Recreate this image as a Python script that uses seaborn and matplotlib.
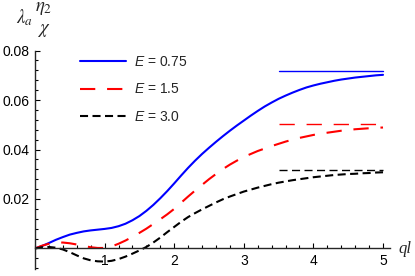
import numpy as np
import pandas as pd
import matplotlib
matplotlib.use("Agg")
import matplotlib.pyplot as plt
from matplotlib.ticker import MultipleLocator, FixedLocator
import seaborn as sns

# values
ql = [0.0, 0.1, 0.2, 0.3, 0.4, 0.5, 0.6, 0.7, 0.8, 0.9,
      1.0, 1.1, 1.2, 1.3, 1.4, 1.5, 1.6, 1.7, 1.8, 1.9,
      2.0, 2.1, 2.2, 2.3, 2.4, 2.5, 2.6, 2.7, 2.8, 2.9,
      3.0, 3.1, 3.2, 3.3, 3.4, 3.5, 3.6, 3.7, 3.8, 3.9,
      4.0, 4.1, 4.2, 4.3, 4.4, 4.5, 4.6, 4.7, 4.8, 4.9, 5.0]
lam_e075 = [0.0, 0.0010, 0.0022, 0.0035, 0.0046, 0.0056, 0.0063, 0.0069, 0.0073, 0.0076,
            0.0079, 0.0083, 0.0090, 0.0100, 0.0114, 0.0131, 0.0152, 0.0176, 0.0203, 0.0232,
            0.0263, 0.0295, 0.0326, 0.0355, 0.0382, 0.0407, 0.0431, 0.0454, 0.0476, 0.0497,
            0.0517, 0.0537, 0.0556, 0.0574, 0.0590, 0.0605, 0.0618, 0.0630, 0.0641, 0.0651,
            0.0659, 0.0666, 0.0672, 0.0678, 0.0683, 0.0687, 0.0691, 0.0694, 0.0697, 0.0700, 0.0702]
lam_e15 = [0.0, 0.0011, 0.0019, 0.0023, 0.0024, 0.0021, 0.0016, 0.0010, 0.0005, 0.0002,
           0.0002, 0.0008, 0.0019, 0.0032, 0.0047, 0.0063, 0.0080, 0.0099, 0.0118, 0.0138,
           0.0160, 0.0185, 0.0210, 0.0234, 0.0257, 0.0280, 0.0301, 0.0321, 0.0339, 0.0355,
           0.0370, 0.0382, 0.0394, 0.0404, 0.0414, 0.0423, 0.0432, 0.0440, 0.0447, 0.0453,
           0.0459, 0.0464, 0.0468, 0.0472, 0.0476, 0.0479, 0.0482, 0.0484, 0.0486, 0.0488, 0.0489]
lam_e30 = [0.0, 0.0005, 0.0006, 0.0003, -0.0004, -0.0015, -0.0028, -0.0040, -0.0048, -0.0052,
           -0.0053, -0.0050, -0.0043, -0.0033, -0.0021, -0.0008, 0.0006, 0.0024, 0.0044, 0.0066,
           0.0087, 0.0108, 0.0127, 0.0143, 0.0158, 0.0172, 0.0186, 0.0199, 0.0210, 0.0220,
           0.0230, 0.0238, 0.0246, 0.0253, 0.0260, 0.0266, 0.0271, 0.0276, 0.0280, 0.0284,
           0.0288, 0.0291, 0.0294, 0.0297, 0.0299, 0.0301, 0.0302, 0.0304, 0.0305, 0.0307, 0.0308]
labels = ["$E$ = 0.75", "$E$ = 1.5", "$E$ = 3.0"]
asymptotes = [0.0718, 0.0503, 0.0316]
asym_from, asym_to = 3.5, 5.0

sns.set_style("ticks")
plt.rcParams["font.family"] = ["Liberation Sans", "DejaVu Sans"]
plt.rcParams["mathtext.fontset"] = "custom"
plt.rcParams["mathtext.it"] = "Liberation Sans:italic"
plt.rcParams["mathtext.rm"] = "Liberation Sans"

fig = plt.figure(figsize=(4.15, 2.76), dpi=100)
ax = fig.add_axes([0.0843, 0.0236, 0.8554, 0.7931])

colors = ["#0000ff", "#ff0000", "#000000"]
dash_pt = [None, (11.0, 8.5), (5.8, 3.2)]  # in points
lw = 1.5
series = [lam_e075, lam_e15, lam_e30]

for vals, lab, c, d in zip(series, labels, colors, dash_pt):
    ls = "-" if d is None else (0, (d[0] / lw, d[1] / lw))
    sns.lineplot(x=ql, y=vals, ax=ax, color=c, lw=lw, linestyle=ls, label=lab)

# thin asymptote lines
thin = 1.0
for a, c, d in zip(asymptotes, colors, dash_pt):
    ls = "-" if d is None else (0, (d[0] / thin, d[1] / thin))
    ax.plot([asym_from, asym_to], [a, a], color=c, lw=thin, linestyle=ls)

ax.set_xlim(0, 5.1)
ax.set_ylim(-0.0085, 0.08)
ax.spines["right"].set_visible(False)
ax.spines["top"].set_visible(False)
ax.spines["bottom"].set_position(("data", 0))
for s in ["left", "bottom"]:
    ax.spines[s].set_linewidth(1.0)

ax.xaxis.set_major_locator(FixedLocator([1, 2, 3, 4, 5]))
ax.xaxis.set_minor_locator(MultipleLocator(0.2))
ax.yaxis.set_major_locator(FixedLocator([0.02, 0.04, 0.06, 0.08]))
ax.yaxis.set_minor_locator(MultipleLocator(0.004))
ax.set_xticklabels(["1", "2", "3", "4", "5"])
ax.set_yticklabels(["0.02", "0.04", "0.06", "0.08"])
ax.tick_params(which="both", direction="in", width=0.8, labelsize=10, colors="black")
ax.tick_params(which="major", length=3.5, pad=4)
ax.tick_params(which="minor", length=2)
ax.set_xlabel("")
ax.set_ylabel("")

ax.legend(loc="upper left", bbox_to_anchor=(0.193, 0.80), bbox_transform=fig.transFigure,
          frameon=False, fontsize=10, handlelength=3.3, handletextpad=0.6,
          labelspacing=0.95, borderpad=0, borderaxespad=0)

# y label: lambda_a  eta_2 over chi (no fraction bar)
fig.text(0.058, 0.935, r"$\lambda_a$", fontsize=13.5, math_fontfamily="stix",
         ha="center", va="center")
fig.text(0.106, 0.968, r"$\eta_2$", fontsize=13.5, math_fontfamily="stix",
         ha="center", va="center")
fig.text(0.106, 0.888, r"$\chi$", fontsize=13.5, math_fontfamily="stix",
         ha="center", va="center")
fig.text(0.975, 0.098, "ql", fontsize=12, family="Liberation Serif", style="italic",
         ha="center", va="center")

fig.savefig("out.png", dpi=100)
